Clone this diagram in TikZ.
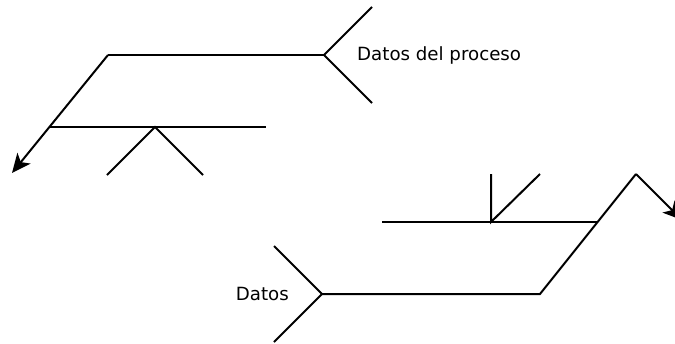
\documentclass[tikz,border=0pt]{standalone}
\usepackage{fontspec}
\setmainfont{DejaVu Sans}
\usetikzlibrary{arrows.meta}
\begin{document}
\begin{tikzpicture}[x=1pt,y=-1pt,
  bone/.style={draw=black,line width=2pt,line join=miter},
  headed/.style={arrows={-Stealth[length=19pt,width=17pt,inset=5pt]}},
  lbl/.style={font=\fontsize{18.2}{22}\selectfont,inner sep=0pt,text=black}]
\useasboundingbox (0,0) rectangle (675,343);

% upper fishbone
\coordinate (uf)  at (324,55);
\coordinate (ufa) at (372,7);
\coordinate (ufb) at (372,103);
\coordinate (ul)  at (108,55);
\coordinate (ua)  at (12,173);
\coordinate (ux)  at (49.4,127);
\coordinate (ur)  at (266,127);
\coordinate (uv)  at (155,127);
\coordinate (uvl) at (107,175);
\coordinate (uvr) at (203,175);

\draw[bone] (ufa) -- (uf) -- (ufb);
\draw[bone] (uf) -- (ul);
\draw[bone,headed] (ul) -- (ua);
\draw[bone] (ux) -- (ur);
\draw[bone] (uvl) -- (uv) -- (uvr);
\node[lbl,anchor=west] (lproc) at (357,55) {Datos del proceso};

% lower fishbone
\coordinate (lf)  at (322,294);
\coordinate (lfa) at (274,246);
\coordinate (lfb) at (274,342);
\coordinate (lr)  at (540,294);
\coordinate (lp)  at (636,174);
\coordinate (la)  at (682,220);
\coordinate (lx)  at (597.6,222);
\coordinate (ll)  at (382,222);
\coordinate (lv)  at (491,222);
\coordinate (lvt) at (491,174);
\coordinate (lvd) at (540,174);

\draw[bone] (lfa) -- (lf) -- (lfb);
\draw[bone] (lf) -- (lr) -- (lp);
\draw[bone,headed] (lp) -- (la);
\draw[bone] (ll) -- (lx);
\draw[bone] (lvt) -- (lv) -- (lvd);
\node[lbl,anchor=east] (ldat) at (289,294) {Datos};
\end{tikzpicture}
\end{document}
